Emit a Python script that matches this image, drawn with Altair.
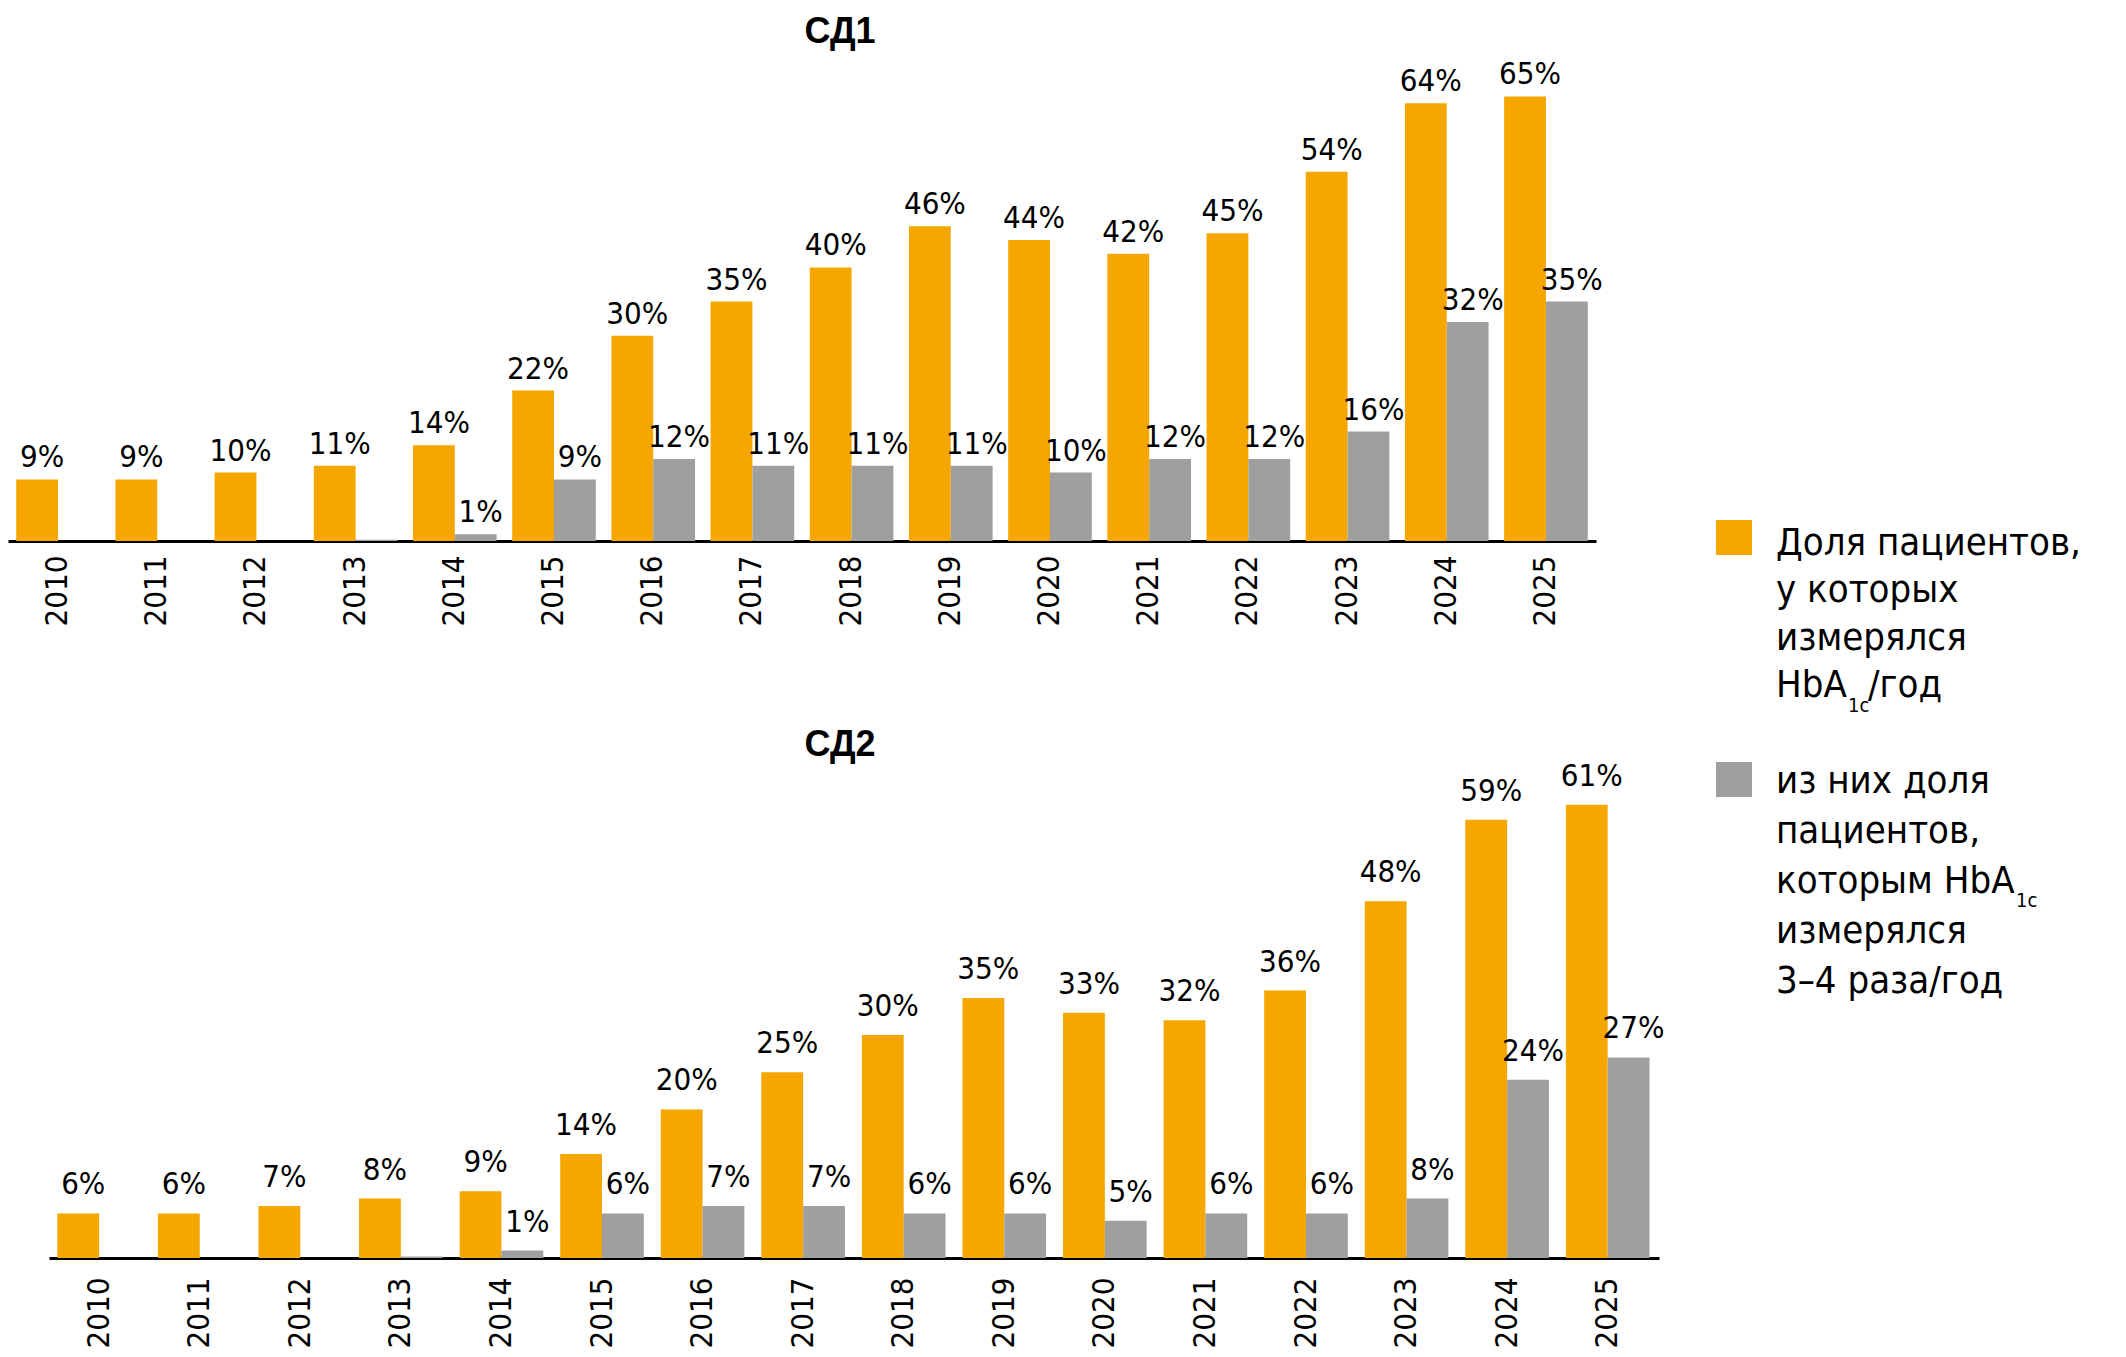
import altair as alt
import pandas as pd

years = [str(y) for y in range(2010, 2026)]
sd1_all = [9, 9, 10, 11, 14, 22, 30, 35, 40, 46, 44, 42, 45, 54, 64, 65]
sd1_freq = [0, 0, 0, 0.2, 1, 9, 12, 11, 11, 11, 10, 12, 12, 16, 32, 35]
sd2_all = [6, 6, 7, 8, 9, 14, 20, 25, 30, 35, 33, 32, 36, 48, 59, 61]
sd2_freq = [0, 0, 0, 0.2, 1, 6, 7, 7, 6, 6, 5, 6, 6, 8, 24, 27]
series = ["all", "freq"]
colors = ["#F5A700", "#9F9F9E"]
titles = ["СД1", "СД2"]

leg1_lines = ["Доля пациентов,", "у которых", "измерялся"]
leg1_last = ["HbA", "1c", "/год"]
leg2_lines = ["из них доля", "пациентов,"]
leg2_mid = ["которым HbA", "1c"]
leg2_tail = ["измерялся", "3–4 раза/год"]

NARROW = "DejaVu Sans Condensed, sans-serif"
LEGFONT = "DejaVu Sans Condensed, sans-serif"


def make_df(a, b):
    rows = []
    for i, y in enumerate(years):
        for s, v in zip(series, (a[i], b[i])):
            rows.append({"year": y, "series": s, "value": v,
                         "label": f"{int(v)}%" if v >= 1 else ""})
    return pd.DataFrame(rows)


W = 1670


def panel(df, title, ymax, height, xrange, label_pad, label_dy, title_y):
    base = alt.Chart(df).encode(
        x=alt.X("year:N", sort=years,
                scale=alt.Scale(range=xrange, paddingInner=0.157, paddingOuter=0.083),
                axis=alt.Axis(title=None, labelAngle=-90, ticks=False, labelPadding=label_pad,
                              domainColor="black", domainWidth=3, labelFont=NARROW,
                              labelFontSize=31, labelColor="black", grid=False)),
        xOffset=alt.XOffset("series:N", sort=series, scale=alt.Scale(paddingInner=0)),
        y=alt.Y("value:Q", scale=alt.Scale(domain=[0, ymax]), axis=None),
    )
    bars = base.mark_bar().encode(
        color=alt.Color("series:N", scale=alt.Scale(domain=series, range=colors), legend=None))
    text = base.transform_filter("datum.value >= 1").mark_text(
        baseline="alphabetic", dy=label_dy, dx=5, font=NARROW, fontSize=31, color="black"
    ).encode(text="label:N")
    ttl = alt.Chart(pd.DataFrame({"t": [title]})).mark_text(
        baseline="alphabetic", align="center", font="Liberation Sans", fontWeight="bold",
        fontSize=36, color="black"
    ).encode(text="t:N", x=alt.value(832), y=alt.value(title_y))
    return alt.layer(bars, text, ttl).properties(width=W, height=height)


# top: axis at page 541, 6.84 px per %; plot starts at page 8
top = panel(make_df(sd1_all, sd1_freq), titles[0], 533 / 6.84, 533, [0, 1588], 14, -12, 35)
# bottom: axis at page 1258, 7.43 px per %
bottom = panel(make_df(sd2_all, sd2_freq), titles[1], 538 / 7.43, 538, [41, 1651], 19, -19, 36)

# custom legend
one = pd.DataFrame({"k": [0]})
LX = 24
TX = 84
leg_layers = []
leg_layers.append(alt.Chart(one).mark_rect(color=colors[0]).encode(
    x=alt.value(LX), x2=alt.value(LX + 36), y=alt.value(512), y2=alt.value(547)))
leg_layers.append(alt.Chart(one).mark_rect(color=colors[1]).encode(
    x=alt.value(LX), x2=alt.value(LX + 36), y=alt.value(754), y2=alt.value(789)))


def txt(s, x, y, size=38):
    return alt.Chart(pd.DataFrame({"t": [s]})).mark_text(
        align="left", baseline="alphabetic", font=LEGFONT, fontSize=size, color="black"
    ).encode(text="t:N", x=alt.value(x), y=alt.value(y))


y0 = 547
for i, s in enumerate(leg1_lines):
    leg_layers.append(txt(s, TX, y0 + 47.3 * i))
yl = y0 + 47.3 * 3
leg_layers.append(txt(leg1_last[0], TX, yl))
leg_layers.append(txt(leg1_last[1], TX + 72, yl + 15, 20))
leg_layers.append(txt(leg1_last[2], TX + 92, yl))

y1 = 785
for i, s in enumerate(leg2_lines):
    leg_layers.append(txt(s, TX, y1 + 50 * i))
ym = y1 + 100
leg_layers.append(txt(leg2_mid[0], TX, ym))
leg_layers.append(txt(leg2_mid[1], TX + 240, ym + 14, 20))
for i, s in enumerate(leg2_tail):
    leg_layers.append(txt(s, TX, ym + 50 * (i + 1)))

legend = alt.layer(*leg_layers).properties(width=420, height=1000)

chart = alt.hconcat(
    alt.vconcat(top, bottom, spacing=94),
    legend, spacing=14
).properties(padding=0).configure_view(stroke=None)

chart.save("out.html", embed_options={"renderer": "svg", "actions": False})
